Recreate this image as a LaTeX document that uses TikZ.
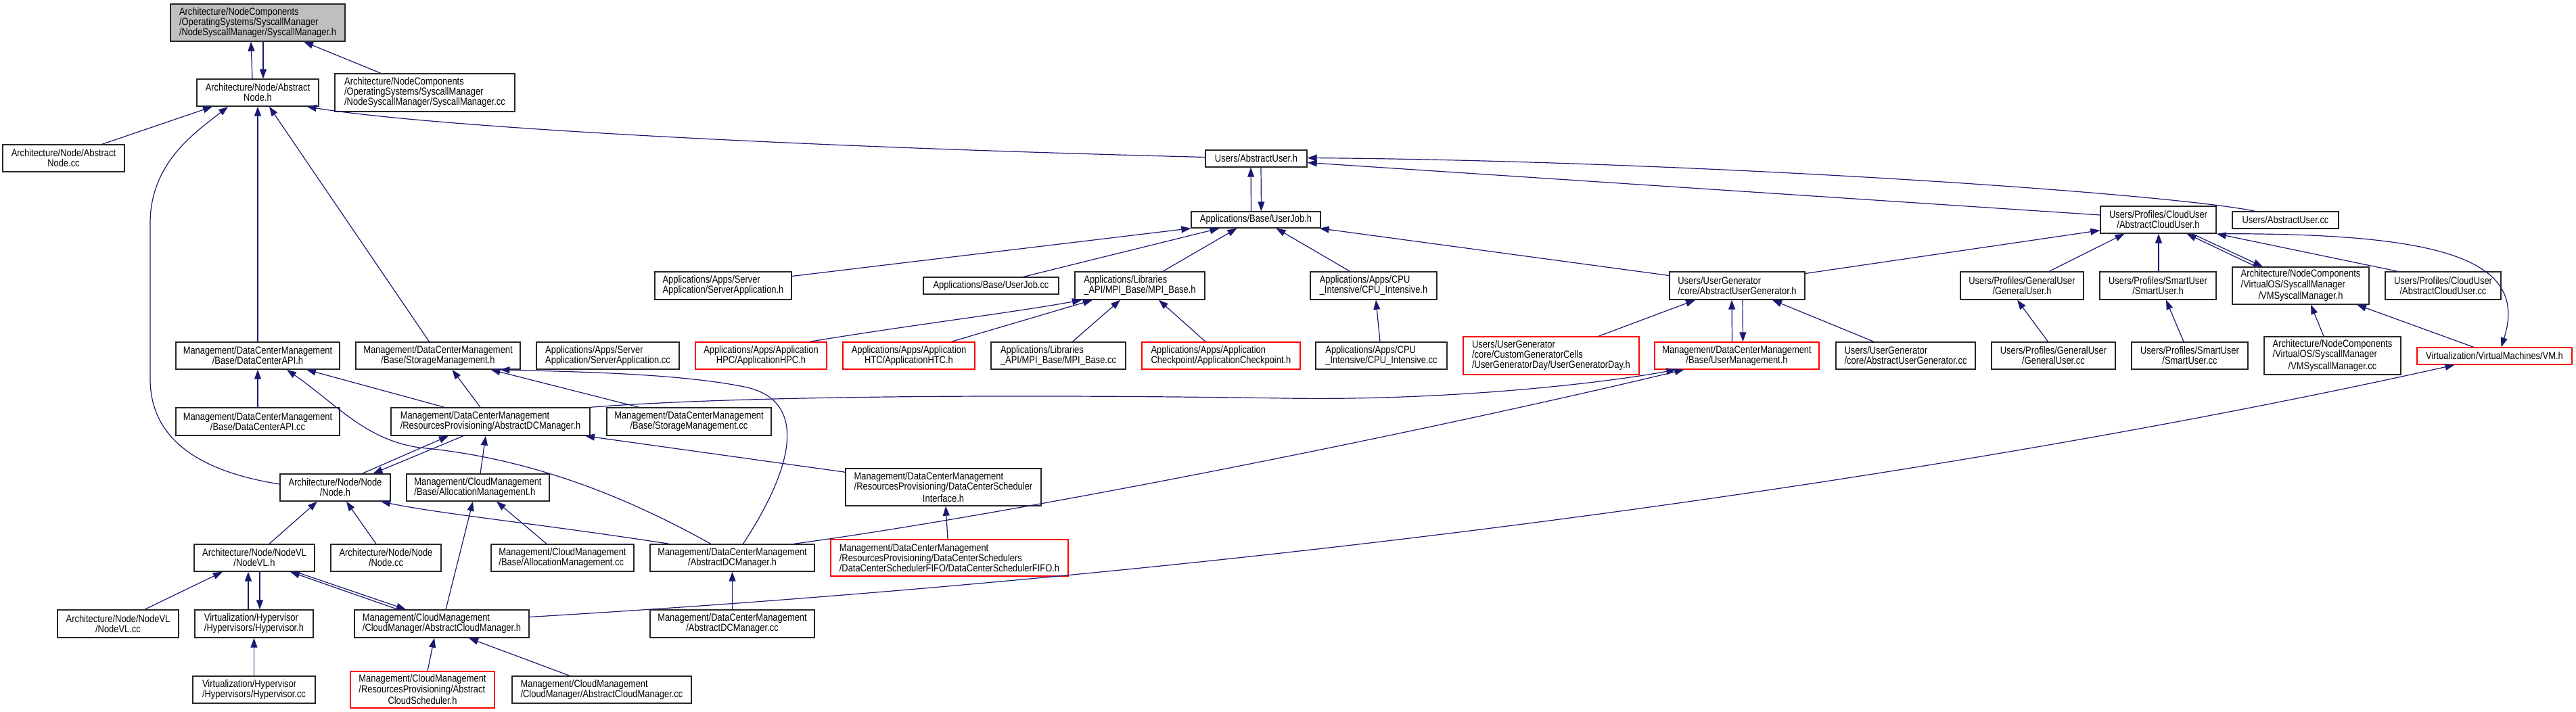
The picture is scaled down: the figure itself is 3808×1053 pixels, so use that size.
\documentclass[tikz,border=0pt]{standalone}
\usepackage{fontspec}
\setmainfont{Liberation Sans}[FakeStretch=0.85]
\usetikzlibrary{arrows.meta,calc}
\definecolor{edgeblue}{HTML}{191970}
\definecolor{rootgray}{HTML}{BFBFBF}
\newcommand{\leftrows}[1]{\begin{tabular}[b]{@{}l@{}}#1\end{tabular}}

\begin{document}
\begin{tikzpicture}[x=0.5pt, y=-0.5pt, >={Triangle[length=7pt,width=5pt]},
		every node/.style={font=\fontsize{7.6}{7.5}\selectfont, inner sep=1pt},
		filenode/.style={draw=black!85, line width=0.7pt, fill=white},
		truncnode/.style={draw=red, line width=0.7pt, fill=white},
		rootnode/.style={draw=black!85, line width=0.7pt, fill=rootgray},
		sz/.style 2 args={minimum width=#1*0.5pt, minimum height=#2*0.5pt},
		incl/.style={->, draw=edgeblue, line width=0.6pt}]
	\useasboundingbox (0,0) rectangle (3808,1053);
	
	% ================= 文件节点（按层） =================
	% 第0-1层
	\node[rootnode, sz={258}{55}, align=left] (root) at (381,33.5) {Architecture/NodeComponents\\/OperatingSystems/SyscallManager\\/NodeSyscallManager/SyscallManager.h};
	\node[filenode, sz={180}{40}, align=center] (absnodeh) at (381,137) {Architecture/Node/Abstract\\Node.h};
	\node[filenode, sz={266}{56}, align=left] (smcc) at (628,137) {Architecture/NodeComponents\\/OperatingSystems/SyscallManager\\/NodeSyscallManager/SyscallManager.cc};
	
	% 第2-3层
	\node[filenode, sz={180}{40}, align=center] (absnodecc) at (94,234) {Architecture/Node/Abstract\\Node.cc};
	\node[filenode, sz={150}{25}] (absuserh) at (1857,234.5) {Users/AbstractUser.h};
	\node[filenode, sz={191}{24}] (userjobh) at (1856.5,325) {Applications/Base/UserJob.h};
	\node[filenode, sz={171}{40}, align=center] (abscloudh) at (3190.5,325) {Users/Profiles/CloudUser\\/AbstractCloudUser.h};
	\node[filenode, sz={157}{25}] (absusercc) at (3378.5,325.5) {Users/AbstractUser.cc};
	
	% 第4层
	\node[filenode, sz={202}{41}, align=left] (serverapph) at (1069,422.5) {Applications/Apps/Server\\Application/ServerApplication.h};
	\node[filenode, sz={200}{25}] (userjobcc) at (1465,422.5) {Applications/Base/UserJob.cc};
	\node[filenode, sz={192}{41}, align=left] (mpibaseh) at (1685,422.5) {Applications/Libraries\\\_API/MPI\_Base/MPI\_Base.h};
	\node[filenode, sz={187}{41}, align=left] (cpuinth) at (2030.5,422.5) {Applications/Apps/CPU\\\_Intensive/CPU\_Intensive.h};
	\node[filenode, sz={200}{41}, align=left] (absugenh) at (2568,422.5) {Users/UserGenerator\\/core/AbstractUserGenerator.h};
	\node[filenode, sz={182}{41}, align=center] (generalh) at (2989,422.5) {Users/Profiles/GeneralUser\\/GeneralUser.h};
	\node[filenode, sz={172}{41}, align=center] (smarth) at (3190,422.5) {Users/Profiles/SmartUser\\/SmartUser.h};
	\node[filenode, sz={202}{55}, align=center] (vmsysh) at (3401,422.5) {\leftrows{Architecture/NodeComponents\\/VirtualOS/SyscallManager}\\/VMSyscallManager.h};
	\node[filenode, sz={171}{41}, align=center] (abscloudcc) at (3611.5,422.5) {Users/Profiles/CloudUser\\/AbstractCloudUser.cc};
	
	% 第5层
	\node[filenode, sz={242}{40}, align=center] (dcapih) at (381,526) {Management/DataCenterManagement\\/Base/DataCenterAPI.h};
	\node[filenode, sz={243}{40}, align=center] (storh) at (647.5,526) {Management/DataCenterManagement\\/Base/StorageManagement.h};
	\node[filenode, sz={211}{40}, align=left] (serverappcc) at (898.5,526) {Applications/Apps/Server\\Application/ServerApplication.cc};
	\node[truncnode, sz={194}{40}, align=center] (hpc) at (1125,526) {Applications/Apps/Application\\HPC/ApplicationHPC.h};
	\node[truncnode, sz={195}{40}, align=center] (htc) at (1343.5,526) {Applications/Apps/Application\\HTC/ApplicationHTC.h};
	\node[filenode, sz={199}{40}, align=left] (mpibasecc) at (1564.5,526) {Applications/Libraries\\\_API/MPI\_Base/MPI\_Base.cc};
	\node[truncnode, sz={234}{40}, align=left] (checkpoint) at (1805,526) {Applications/Apps/Application\\Checkpoint/ApplicationCheckpoint.h};
	\node[filenode, sz={194}{40}, align=left] (cpuintcc) at (2042,526) {Applications/Apps/CPU\\\_Intensive/CPU\_Intensive.cc};
	\node[truncnode, sz={260}{56}, align=left] (ugenday) at (2293,526) {Users/UserGenerator\\/core/CustomGeneratorCells\\/UserGeneratorDay/UserGeneratorDay.h};
	\node[truncnode, sz={243}{40}, align=center] (usermgmth) at (2567.5,526) {Management/DataCenterManagement\\/Base/UserManagement.h};
	\node[filenode, sz={206}{40}, align=left] (absugencc) at (2817,526) {Users/UserGenerator\\/core/AbstractUserGenerator.cc};
	\node[filenode, sz={183}{40}, align=center] (generalcc) at (3035.5,526) {Users/Profiles/GeneralUser\\/GeneralUser.cc};
	\node[filenode, sz={172}{40}, align=center] (smartcc) at (3237,526) {Users/Profiles/SmartUser\\/SmartUser.cc};
	\node[filenode, sz={202}{56}, align=center] (vmsyscc) at (3448,526) {\leftrows{Architecture/NodeComponents\\/VirtualOS/SyscallManager}\\/VMSyscallManager.cc};
	\node[truncnode, sz={229}{25}] (vmh) at (3687.5,526.5) {Virtualization/VirtualMachines/VM.h};
	
	% 第6-7层
	\node[filenode, sz={242}{41}, align=center] (dcapicc) at (381,623.5) {Management/DataCenterManagement\\/Base/DataCenterAPI.cc};
	\node[filenode, sz={294}{41}, align=left] (resdcmgrh) at (725,623.5) {Management/DataCenterManagement\\/ResourcesProvisioning/AbstractDCManager.h};
	\node[filenode, sz={243}{41}, align=center] (storcc) at (1018.5,623.5) {Management/DataCenterManagement\\/Base/StorageManagement.cc};
	\node[filenode, sz={163}{40}, align=center] (nodeh) at (495.5,721) {Architecture/Node/Node\\/Node.h};
	\node[filenode, sz={211}{40}, align=left] (allocmgmth) at (706.5,721) {Management/CloudManagement\\/Base/AllocationManagement.h};
	\node[filenode, sz={289}{55}, align=center] (dcschedif) at (1394.5,720.5) {\leftrows{Management/DataCenterManagement\\/ResourcesProvisioning/DataCenterScheduler}\\Interface.h};
	
	% 第8层
	\node[filenode, sz={178}{40}, align=center] (nodevlh) at (376,825) {Architecture/Node/NodeVL\\/NodeVL.h};
	\node[filenode, sz={163}{40}, align=center] (nodecc) at (570.5,825) {Architecture/Node/Node\\/Node.cc};
	\node[filenode, sz={211}{40}, align=left] (alloccc) at (831.5,825) {Management/CloudManagement\\/Base/AllocationManagement.cc};
	\node[filenode, sz={243}{40}, align=center] (dcmgrh) at (1082.5,825) {Management/DataCenterManagement\\/AbstractDCManager.h};
	\node[truncnode, sz={351}{54}, align=left] (fifo) at (1403.5,825) {Management/DataCenterManagement\\/ResourcesProvisioning/DataCenterSchedulers\\/DataCenterSchedulerFIFO/DataCenterSchedulerFIFO.h};
	
	% 第9-10层
	\node[filenode, sz={179}{41}, align=center] (nodevlcc) at (174.5,922.5) {Architecture/Node/NodeVL\\/NodeVL.cc};
	\node[filenode, sz={175}{41}, align=left] (hyperh) at (375.5,922.5) {Virtualization/Hypervisor\\/Hypervisors/Hypervisor.h};
	\node[filenode, sz={258}{41}, align=left] (cloudmgrh) at (653,922.5) {Management/CloudManagement\\/CloudManager/AbstractCloudManager.h};
	\node[filenode, sz={243}{41}, align=center] (dcmgrcc) at (1082.5,922.5) {Management/DataCenterManagement\\/AbstractDCManager.cc};
	\node[filenode, sz={181}{40}, align=left] (hypercc) at (375.5,1020) {Virtualization/Hypervisor\\/Hypervisors/Hypervisor.cc};
	\node[truncnode, sz={213}{54}, align=center] (cloudsched) at (624.5,1020) {\leftrows{Management/CloudManagement\\/ResourcesProvisioning/Abstract}\\CloudScheduler.h};
	\node[filenode, sz={265}{40}, align=left] (cloudmgrcc) at (889.5,1020) {Management/CloudManagement\\/CloudManager/AbstractCloudManager.cc};
	
	% ================= 包含关系（箭头指向被包含文件） =================
	% 1. 顶部
	\draw[incl] ($(absnodeh.north)+(-8,0)$) -- ($(root.south)+(-10,0)$);
	\draw[incl] ($(root.south)+(8,0)$) -- ($(absnodeh.north)+(8,0)$);
	\draw[incl] ($(smcc.north)+(-65,0)$) -- ($(root.south)+(68,0)$);
	\draw[incl] ($(absnodecc.north)+(57,0)$) -- ($(absnodeh.south)+(-67,0)$);
	\draw[incl] ($(nodeh.west)+(0,-5)$) .. controls (280,695) and (222,640) .. (222,560) -- (222,330) .. controls (222,240) and (290,195) .. ($(absnodeh.south)+(-44,0)$);
	\draw[incl] (dcapih.north) -- (absnodeh.south);
	\draw[incl] ($(storh.north)+(-13,0)$) -- ($(absnodeh.south)+(17,0)$);
	\draw[incl] ($(absuserh.west)+(0,-2)$) .. controls (1100,215) and (620,185) .. ($(absnodeh.south east)+(-18,0)$);
	
	% 2. 用户与作业
	\draw[incl] ($(userjobh.north)+(-7,0)$) -- ($(absuserh.south)+(-8,0)$);
	\draw[incl] ($(absuserh.south)+(7,0)$) -- ($(userjobh.north)+(8,0)$);
	\draw[incl] ($(serverapph.east)+(0,-14)$) -- (userjobh.south west);
	\draw[incl] ($(userjobcc.north)+(48,0)$) -- ($(userjobh.south)+(-54,0)$);
	\draw[incl] ($(mpibaseh.north)+(34,0)$) -- ($(userjobh.south)+(-28,0)$);
	\draw[incl] ($(cpuinth.north)+(-35,0)$) -- ($(userjobh.south)+(30,0)$);
	\draw[incl] ($(absugenh.west)+(0,-15)$) -- ($(userjobh.south east)+(-2,0)$);
	\draw[incl] ($(hpc.north)+(72,0)$) .. controls (1350,480) and (1500,462) .. ($(mpibaseh.south)+(-86,0)$);
	\draw[incl] ($(htc.north)+(63,0)$) -- ($(mpibaseh.south)+(-70,0)$);
	\draw[incl] ($(mpibasecc.north)+(21,0)$) -- ($(mpibaseh.south)+(-29,0)$);
	\draw[incl] ($(checkpoint.north)+(-23,0)$) -- ($(mpibaseh.south)+(28,0)$);
	\draw[incl] ($(cpuintcc.north)+(-2,0)$) -- ($(cpuinth.south)+(3.5,0)$);
	\draw[incl] ($(ugenday.north)+(70,0)$) -- ($(absugenh.south)+(-62,0)$);
	\draw[incl] ($(usermgmth.north)+(-7,0)$) -- ($(absugenh.south)+(-8,0)$);
	\draw[incl] ($(absugenh.south)+(8,0)$) -- ($(usermgmth.north)+(9,0)$);
	\draw[incl] ($(absugencc.north)+(-47,0)$) -- ($(absugenh.south)+(52,0)$);
	\draw[incl] ($(absugenh.east)+(0,-18)$) -- ($(abscloudh.south west)+(0,-5)$);
	\draw[incl] ($(generalh.north)+(40,0)$) -- ($(abscloudh.south)+(-50,0)$);
	\draw[incl] ($(generalcc.north)+(-8,0)$) -- ($(generalh.south)+(-7,0)$);
	\draw[incl] ($(abscloudh.west)+(0,-7)$) -- ($(absuserh.east)+(0,6)$);
	\draw[incl] ($(absusercc.north)+(-45,0)$) .. controls (3200,285) and (2500,238) .. ($(absuserh.east)+(0,-1)$);
	\draw[incl] ($(smarth.north)+(1,0)$) -- ($(abscloudh.south)+(0.5,0)$);
	\draw[incl] ($(vmsysh.north)+(-66,0)$) -- ($(abscloudh.south)+(42,0)$);
	\draw[incl] ($(abscloudh.south)+(50,0)$) -- ($(vmsysh.north)+(-56,0)$);
	\draw[incl] ($(abscloudcc.north)+(-67,0)$) -- (abscloudh.south east);
	\draw[incl] ($(abscloudh.south east)+(6,0)$) .. controls (3600,345) and (3740,380) .. ($(vmh.north)+(10,0)$);
	\draw[incl] ($(smartcc.north)+(-9,0)$) -- ($(smarth.south)+(12,0)$);
	\draw[incl] ($(vmsyscc.north)+(-13,0)$) -- ($(vmsysh.south)+(15,0)$);
	\draw[incl] ($(vmh.north)+(-31,0)$) -- ($(vmsysh.south)+(83,0)$);
	\draw[incl] ($(cloudmgrh.east)+(0,-10)$) .. controls (2000,840) and (3000,680) .. ($(vmh.south)+(-59,0)$);
	\draw[incl] (resdcmgrh.north east) .. controls (1100,585) and (1500,583) .. (1900,589) .. controls (2150,593) and (2380,565) .. ($(usermgmth.south)+(-90,0)$);
	\draw[incl] ($(dcmgrh.north east)+(-31,0)$) .. controls (1500,760) and (2100,640) .. ($(usermgmth.south)+(-78,0)$);
	
	% 3. 数据中心与节点
	\draw[incl] (dcapicc.north) -- (dcapih.south);
	\draw[incl] ($(resdcmgrh.north)+(-68,0)$) -- ($(dcapih.south)+(72,0)$);
	\draw[incl] ($(dcmgrh.north)+(-32,0)$) .. controls (900,720) and (760,675) .. (620,662) .. controls (540,650) and (500,600) .. ($(dcapih.south)+(43,0)$);
	\draw[incl] ($(resdcmgrh.north)+(-15,0)$) -- ($(storh.south)+(21,0)$);
	\draw[incl] ($(storcc.north)+(-74,0)$) -- ($(storh.south)+(78,0)$);
	\draw[incl] ($(dcmgrh.north)+(16,0)$) .. controls (1180,680) and (1190,590) .. (1100,572) .. controls (1000,552) and (850,550) .. ($(storh.south)+(92,0)$);
	\draw[incl] ($(nodeh.north)+(40,0)$) -- ($(resdcmgrh.south)+(-62,0)$);
	\draw[incl] ($(resdcmgrh.south)+(-40,0)$) -- ($(nodeh.north)+(56,0)$);
	\draw[incl] ($(allocmgmth.north)+(3.5,0)$) -- ($(resdcmgrh.south)+(-7,0)$);
	\draw[incl] ($(dcschedif.north west)+(0,6)$) -- ($(resdcmgrh.south)+(140,0)$);
	\draw[incl] ($(fifo.north)+(-2.5,0)$) -- ($(dcschedif.south)+(3.5,0)$);
	\draw[incl] ($(nodevlh.north)+(22,0)$) -- ($(nodeh.south)+(-26.5,0)$);
	\draw[incl] ($(nodecc.north)+(-14.5,0)$) -- ($(nodeh.south)+(16.5,0)$);
	\draw[incl] ($(dcmgrh.north)+(-93.5,0)$) .. controls (800,775) and (650,760) .. ($(nodeh.south)+(67.5,0)$);
	\draw[incl] ($(alloccc.north)+(-23.5,0)$) -- ($(allocmgmth.south)+(27.5,0)$);
	\draw[incl] ($(cloudmgrh.north)+(6,0)$) -- ($(allocmgmth.south)+(-7.5,0)$);
	\draw[incl] (dcmgrcc.north) -- (dcmgrh.south);
	
	% 4. 虚拟化与云管理
	\draw[incl] ($(nodevlcc.north)+(39.5,0)$) -- ($(nodevlh.south)+(-47,0)$);
	\draw[incl] ($(hyperh.north)+(-8.5,0)$) -- ($(nodevlh.south)+(-9,0)$);
	\draw[incl] ($(nodevlh.south)+(8,0)$) -- ($(hyperh.north)+(8.5,0)$);
	\draw[incl] ($(cloudmgrh.north)+(-65,0)$) -- ($(nodevlh.south)+(53,0)$);
	\draw[incl] ($(nodevlh.south)+(61,0)$) -- ($(cloudmgrh.north)+(-53,0)$);
	\draw[incl] (hypercc.north) -- (hyperh.south);
	\draw[incl] ($(cloudsched.north)+(7.5,0)$) -- ($(cloudmgrh.south)+(-11,0)$);
	\draw[incl] ($(cloudmgrcc.north)+(-47.5,0)$) -- ($(cloudmgrh.south)+(40,0)$);
\end{tikzpicture}
\end{document}
